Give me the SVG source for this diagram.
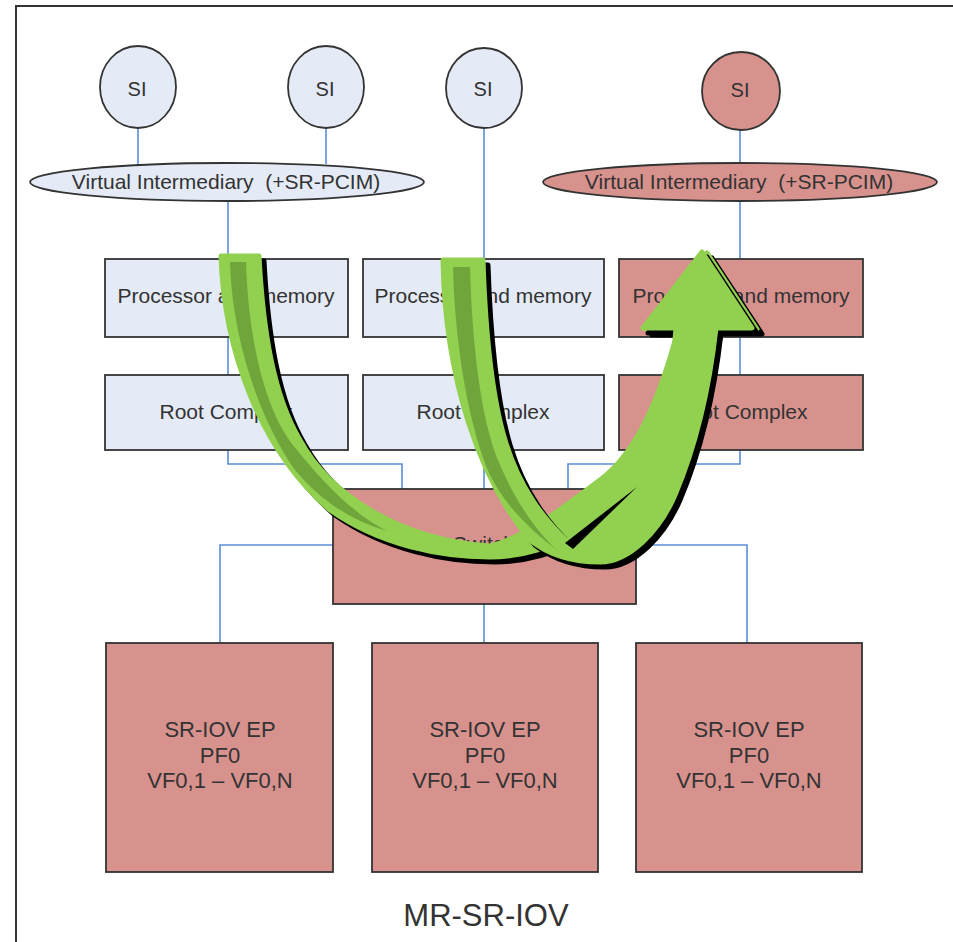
<svg xmlns="http://www.w3.org/2000/svg" xmlns:xlink="http://www.w3.org/1999/xlink" width="953" height="942" viewBox="0 0 953 942">
<style>
.blue{fill:#E4EBF6;stroke:#333;stroke-width:1.8}
.red{fill:#D8928E;stroke:#333;stroke-width:1.8}
.t{font-family:"Liberation Sans",Arial,sans-serif;fill:#333;text-anchor:middle}
.conn{fill:none;stroke:#5B8DD6;stroke-width:1.6}
.g{fill:#92D050;stroke:#92D050;stroke-width:5;stroke-linejoin:round}
.sh{fill:#000;stroke:#000;stroke-width:5;stroke-linejoin:round}
.stripe{fill:#70A53B}
</style>
<defs>
<path id="arrA" d="M221,256 L259,256 C263,330 273,395 300,440 C330,495 400,540 490,546 C525,538 565,506 600,480 C640,450 662,390 678,330 L647,330 L707,253 L757,329 L716,329 C704,400 672,450 640,487 C600,530 540,557 490,557 C440,557 380,545 330,510 C260,450 224,350 221,256 Z"/>
<path id="arrB" d="M443,260 L483,260 C485,320 490,390 505,440 C520,490 545,520 567,541 Q600,520 637,487 C660,445 672,390 676,328 L643,328 L702,252 L752,328 L716,328 C708,400 692,455 675,495 C660,530 630,562 600,562 C575,562 550,556 530,540 C480,480 445,380 443,260 Z"/>
</defs>
<rect width="953" height="942" fill="#fff"/>
<path d="M16,942 V6 H953" fill="none" stroke="#333" stroke-width="2"/>

<g id="connectors">
<path class="conn" d="M138,129 V165"/>
<path class="conn" d="M326,129 V164"/>
<path class="conn" d="M484,128 V259"/>
<path class="conn" d="M740,130 V164"/>
<path class="conn" d="M228,201 V259"/>
<path class="conn" d="M740,201 V259"/>
<path class="conn" d="M228,337 V375"/>
<path class="conn" d="M484,337 V375"/>
<path class="conn" d="M740,337 V375"/>
<path class="conn" d="M228,450 V464 H402 V489"/>
<path class="conn" d="M740,450 V464 H568 V489"/>
<path class="conn" d="M484,450 V489"/>
<path class="conn" d="M333,545 H220 V643"/>
<path class="conn" d="M636,545 H747 V643"/>
<path class="conn" d="M484,604 V643"/>
</g>

<g id="si1"><ellipse class="blue" cx="138" cy="87" rx="38" ry="41"/><text class="t" x="137" y="96" font-size="20">SI</text></g>
<g id="si2"><ellipse class="blue" cx="326" cy="87" rx="38" ry="41"/><text class="t" x="325" y="96" font-size="20">SI</text></g>
<g id="si3"><ellipse class="blue" cx="484" cy="88" rx="38" ry="40"/><text class="t" x="483" y="96" font-size="20">SI</text></g>
<g id="si4"><ellipse class="red" cx="741" cy="91" rx="39" ry="39"/><text class="t" x="740" y="97" font-size="20">SI</text></g>

<g id="vi1"><ellipse class="blue" cx="227" cy="182" rx="197" ry="19"/><text class="t" x="226" y="189" font-size="21" style="white-space:pre">Virtual Intermediary  (+SR-PCIM)</text></g>
<g id="vi2"><ellipse class="red" cx="740" cy="182" rx="197" ry="19"/><text class="t" x="739" y="189" font-size="21" style="white-space:pre">Virtual Intermediary  (+SR-PCIM)</text></g>

<g id="pm1"><rect class="blue" x="105" y="259" width="243" height="78"/><text class="t" x="226" y="303" font-size="21">Processor and memory</text></g>
<g id="pm2"><rect class="blue" x="363" y="259" width="241" height="78"/><text class="t" x="483" y="303" font-size="21">Processor and memory</text></g>
<g id="pm3"><rect class="red" x="619" y="259" width="244" height="78"/><text class="t" x="741" y="303" font-size="21">Processor and memory</text></g>

<g id="rc1"><rect class="blue" x="105" y="375" width="243" height="75"/><text class="t" x="226" y="419" font-size="21">Root Complex</text></g>
<g id="rc2"><rect class="blue" x="363" y="375" width="241" height="75"/><text class="t" x="483" y="419" font-size="21">Root Complex</text></g>
<g id="rc3"><rect class="red" x="619" y="375" width="244" height="75"/><text class="t" x="741" y="419" font-size="21">Root Complex</text></g>

<g id="switch"><rect class="red" x="333" y="489" width="303" height="115"/><text class="t" x="484" y="551" font-size="21">Switch</text></g>

<g id="ep1"><rect class="red" x="106" y="643" width="227" height="229"/>
<text class="t" x="220" y="737" font-size="22">SR-IOV EP</text><text class="t" x="220" y="763" font-size="22">PF0</text><text class="t" x="220" y="788" font-size="22">VF0,1 – VF0,N</text></g>
<g id="ep2"><rect class="red" x="372" y="643" width="226" height="229"/>
<text class="t" x="485" y="737" font-size="22">SR-IOV EP</text><text class="t" x="485" y="763" font-size="22">PF0</text><text class="t" x="485" y="788" font-size="22">VF0,1 – VF0,N</text></g>
<g id="ep3"><rect class="red" x="636" y="643" width="226" height="229"/>
<text class="t" x="749" y="737" font-size="22">SR-IOV EP</text><text class="t" x="749" y="763" font-size="22">PF0</text><text class="t" x="749" y="788" font-size="22">VF0,1 – VF0,N</text></g>

<g id="arrows">
<use xlink:href="#arrA" class="sh" transform="translate(5,5)"/>
<use xlink:href="#arrA" class="g"/>
<path class="stripe" d="M230,262 L246,262 C248,330 262,410 297,450 C325,485 355,515 387,531 C350,520 320,500 295,470 C260,420 232,340 230,262 Z"/>
<use xlink:href="#arrB" class="sh" transform="translate(5,5)"/>
<use xlink:href="#arrB" class="g"/>
<path d="M565,543 L637,487 L573,549 Z" fill="#000"/>
<path class="stripe" d="M453,267 L470,267 C472,340 480,420 500,465 C515,500 535,530 557,550 C530,530 505,505 490,475 C470,430 455,350 453,267 Z"/>
</g>

<text id="title" class="t" x="486" y="926" font-size="31">MR-SR-IOV</text>
</svg>
